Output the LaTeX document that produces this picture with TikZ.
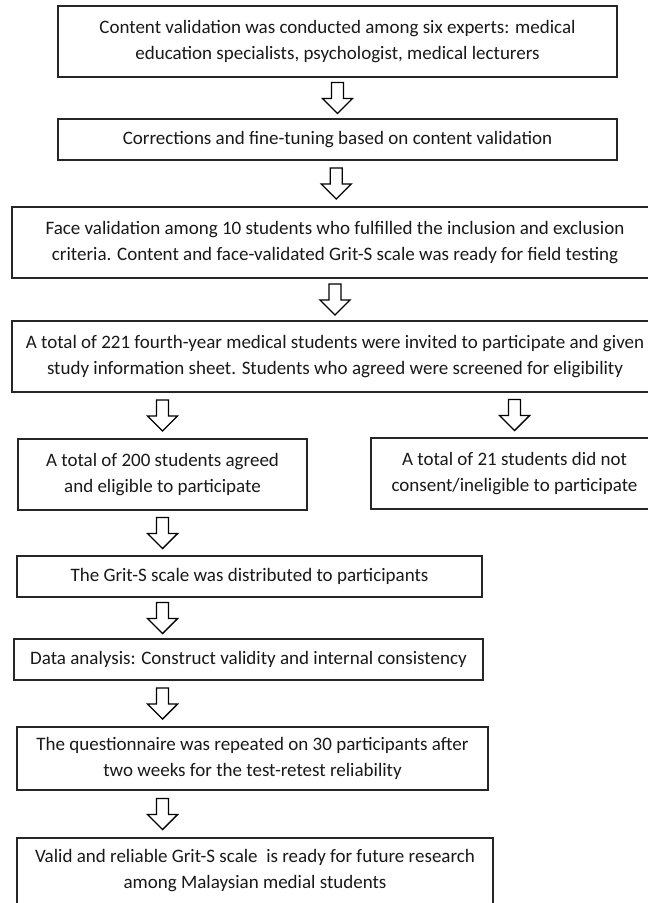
\documentclass[tikz,border=0pt]{standalone}
\usepackage{fontspec}
\setmainfont{Carlito}
\usetikzlibrary{calc}
\tikzset{
  box/.style={draw=black!85, line width=1.1pt, rectangle, inner sep=0pt, align=center,
              font=\fontsize{19}{26}\selectfont, text=black!90},
  downarrow/.pic={\draw[line width=1.4pt, line join=miter, fill=white]
     (-6,-15.5) -- (6,-15.5) -- (6,0.5) -- (15,0.5) -- (0,15.5) -- (-15,0.5) -- (-6,0.5) -- cycle;}
}
\begin{document}
\begin{tikzpicture}[x=1pt,y=-1pt]
\useasboundingbox[fill=white] (0,0) rectangle (648,903);
\node[box, minimum width=559pt, minimum height=71pt] (b1) at (337.5,41.5)
  {Content validation was conducted among six experts: medical\\ education specialists, psychologist, medical lecturers};
\node[box, minimum width=559pt, minimum height=41pt] (b2) at (337.5,139.5)
  {Corrections and fine-tuning based on content validation};
\node[box, minimum width=646pt, minimum height=71pt] (b3) at (335,242.5)
  {Face validation among 10 students who fulfilled the inclusion and exclusion\\ criteria. Content and face-validated Grit-S scale was ready for field testing};
\node[box, minimum width=646pt, minimum height=71pt] (b4) at (335,356.5)
  {A total of 221 fourth-year medical students were invited to participate and given\\ study information sheet. Students who agreed were screened for eligibility};
\node[box, minimum width=289pt, minimum height=71pt] (b5l) at (162.5,474.5)
  {A total of 200 students agreed\\ and eligible to participate};
\node[box, minimum width=287pt, minimum height=71pt] (b5r) at (514.5,473.5)
  {A total of 21 students did not\\ consent/ineligible to participate};
\node[box, minimum width=465pt, minimum height=41pt] (b6) at (249.5,576.5)
  {The Grit-S scale was distributed to participants};
\node[box, minimum width=469pt, minimum height=41pt] (b7) at (248.5,659.5)
  {Data analysis: Construct validity and internal consistency};
\node[box, minimum width=471pt, minimum height=63pt] (b8) at (252.5,758.5)
  {The questionnaire was repeated on 30 participants after\\ two weeks for the test-retest reliability};
\node[box, minimum width=476pt, minimum height=66pt] (b9) at (255,871)
  {Valid and reliable Grit-S scale~ is ready for future research\\ among Malaysian medial students};

\coordinate (a1) at ($(b1.south)!0.5!(b2.north)$);
\coordinate (a2) at ($(b2.south)!0.5!(b3.north)$);
\coordinate (a3) at ($(b3.south)!0.5!(b4.north)$);
\coordinate (a4l) at ($(b5l.center |- b4.south)!0.5!(b5l.north)$);
\coordinate (a4r) at ($(b5r.center |- b4.south)!0.5!(b5r.north)$);
\coordinate (a5) at ($(b5l.south)!0.5!(b5l.center |- b6.north)$);
\coordinate (a6) at ($(b5l.center |- b6.south)!0.5!(b5l.center |- b7.north)$);
\coordinate (a7) at ($(b5l.center |- b7.south)!0.5!(b5l.center |- b8.north)$);
\coordinate (a8) at ($(b5l.center |- b8.south)!0.5!(b5l.center |- b9.north)$);
\foreach \a in {a1,a2,a3,a4l,a4r,a5,a6,a7,a8} {\pic at (\a) {downarrow};}
\end{tikzpicture}
\end{document}
